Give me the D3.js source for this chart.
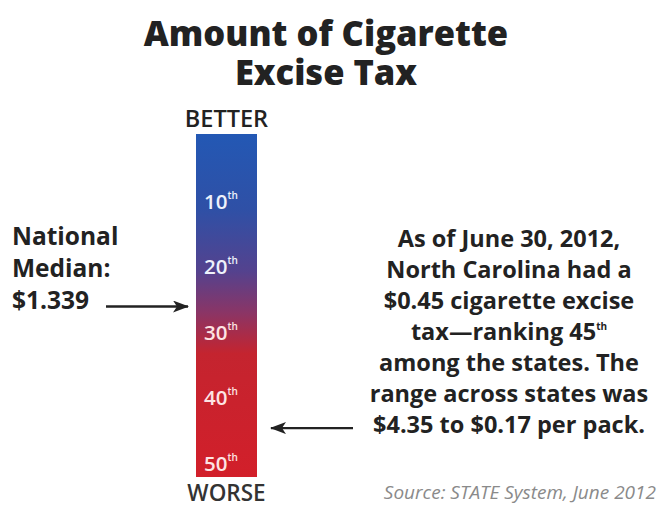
<!DOCTYPE html>
<html><head><meta charset="utf-8">
<script src="https://cdn.jsdelivr.net/npm/d3@7"></script>
<style>body{margin:0;background:#fff}svg{display:block}</style>
</head><body>
<script>
const titleLines = ["Amount of Cigarette", "Excise Tax"];
const rankTicks = [10, 20, 30, 40, 50];
const rankDomain = [0, 52];
const medianRank = 26;
const medianLines = ["National", "Median:", "$1.339"];
const ncRank = 45;
const noteLines = ["As of June 30, 2012,", "North Carolina had a", "$0.45 cigarette excise", "tax\u2014ranking 45|th", "among the states. The", "range across states was", "$4.35 to $0.17 per pack."];
const sourceText = "Source: STATE System, June 2012";

const W = 661, H = 508;
const svg = d3.select("body").append("svg").attr("width", W).attr("height", H);
const font = "'Open Sans', 'DejaVu Sans', sans-serif";

const y = d3.scaleLinear().domain(rankDomain).range([136, 477]);
const barX = 196, barW = 61;

const defs = svg.append("defs");
const grad = defs.append("linearGradient").attr("id", "g").attr("x1", 0).attr("y1", 0).attr("x2", 0).attr("y2", 1);
[["0%", "#2358b4"], ["22%", "#2f50a6"], ["40%", "#54428e"], ["52%", "#8a3566"], ["64%", "#c4242f"], ["100%", "#d21f2a"]]
  .forEach(([o, c]) => grad.append("stop").attr("offset", o).attr("stop-color", c));
const m = defs.append("marker").attr("id", "arr").attr("viewBox", "0 0 16 12").attr("refX", 15).attr("refY", 6)
  .attr("markerWidth", 16).attr("markerHeight", 12).attr("markerUnits", "userSpaceOnUse").attr("orient", "auto");
m.append("path").attr("d", "M0,0 L16,6 L0,12 L4,6 Z").attr("fill", "#222");

// title (one text element, two lines)
const title = svg.append("text").attr("text-anchor", "middle")
  .attr("font-family", font).attr("font-weight", 800).attr("font-size", 34.5).attr("fill", "#222");
title.selectAll("tspan").data(titleLines).join("tspan")
  .attr("x", 326).attr("y", (d, i) => 46 + i * 39).text(d => d);

// bar
svg.append("rect").attr("x", barX).attr("y", y.range()[0] - 2).attr("width", barW)
  .attr("height", y.range()[1] - y.range()[0] + 2).attr("fill", "url(#g)");

svg.append("text").attr("x", barX + barW / 2).attr("y", 127).attr("text-anchor", "middle")
  .attr("font-family", font).attr("font-weight", 600).attr("font-size", 23.5).attr("fill", "#222").text("BETTER");
svg.append("text").attr("x", barX + barW / 2).attr("y", 501).attr("text-anchor", "middle")
  .attr("font-family", font).attr("font-weight", 600).attr("font-size", 22.5).attr("fill", "#333").text("WORSE");

// tick labels
const tl = svg.selectAll("text.tick").data(rankTicks).join("text").attr("class", "tick")
  .attr("x", 204).attr("y", d => y(d) + 7)
  .attr("font-family", font).attr("font-weight", 600).attr("font-size", 20.5)
  .attr("fill", d => d <= 20 ? "#eef2fb" : "#fde4e4");
tl.append("tspan").text(d => d);
tl.append("tspan").attr("font-size", 10).attr("dy", -10).text("th");

// median
svg.selectAll("text.med").data(medianLines).join("text").attr("class", "med")
  .attr("x", 12).attr("y", (d, i) => 245 + i * 32)
  .attr("font-family", font).attr("font-weight", 700).attr("font-size", 24.5).attr("fill", "#222").text(d => d);
svg.append("line").attr("x1", 106).attr("x2", 188).attr("y1", y(medianRank)).attr("y2", y(medianRank))
  .attr("stroke", "#222").attr("stroke-width", 2.4).attr("marker-end", "url(#arr)");

// note
const nt = svg.selectAll("text.note").data(noteLines).join("text").attr("class", "note")
  .attr("x", 509).attr("y", (d, i) => 247 + i * 31).attr("text-anchor", "middle")
  .attr("font-family", font).attr("font-weight", 700).attr("font-size", 23.5).attr("fill", "#222");
nt.each(function(d) {
  const parts = d.split("|");
  const t = d3.select(this);
  t.append("tspan").text(parts[0]);
  if (parts[1]) t.append("tspan").attr("font-size", 10).attr("dy", -10).text(parts[1]);
});
svg.append("line").attr("x1", 353).attr("x2", 271).attr("y1", y(ncRank) - 3).attr("y2", y(ncRank) - 3)
  .attr("stroke", "#222").attr("stroke-width", 2.4).attr("marker-end", "url(#arr)");

svg.append("text").attr("x", 656).attr("y", 499).attr("text-anchor", "end")
  .attr("font-family", font).attr("font-style", "italic").attr("font-size", 19).attr("fill", "#8a8a8a").text(sourceText);
</script>
</body></html>
